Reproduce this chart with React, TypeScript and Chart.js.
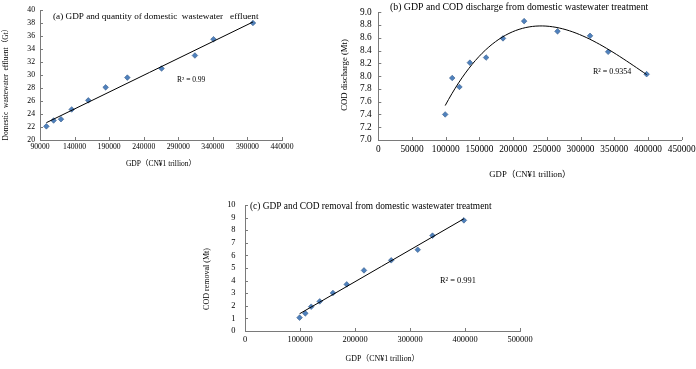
import React, { useEffect, useRef } from "react";
import { Chart, registerables } from "chart.js";

Chart.register(...registerables);

// ---------- data ----------
const gdp = [99215, 109655, 120333, 135823, 159878, 184937, 216314, 265810, 314045, 340903, 397983];
const effluent = [22.1, 23.0, 23.2, 24.7, 26.1, 28.1, 29.6, 31.0, 33.0, 35.5, 38.0];
const codDischarge = [7.4, 7.97, 7.83, 8.21, 8.29, 8.59, 8.86, 8.7, 8.63, 8.38, 8.03];
const codRemoval = [1.06, 1.4, 1.93, 2.35, 3.02, 3.7, 4.81, 5.61, 6.45, 7.57, 8.78];

const titleA = "(a) GDP and quantity of domestic  wastewater   effluent";
const titleB = "(b) GDP and COD discharge from domestic wastewater treatment";
const titleC = "(c) GDP and COD removal from domestic wastewater treatment";
const xTitle = "GDP（CN¥1 trillion）";
const yTitleA = "Domestic  wastewater  effluent（Gt）";
const yTitleB = "COD discharge (Mt)";
const yTitleC = "COD removal (Mt)";
const r2A = "R² = 0.99";
const r2B = "R² = 0.9354";
const r2C = "R² = 0.991";

// ---------- styles ----------
const FAMILY = '"Liberation Serif", "Times New Roman", "Noto Sans CJK SC", serif';
const AXIS = "#7a7a7a";
const MARK_FILL = "#4F81BD";
const MARK_EDGE = "#385D8A";

// ---------- trendlines (least squares polynomial, like the spreadsheet trendline) ----------
function polyFit(xs: number[], ys: number[], order: number) {
  const s = 1e5;
  const u = xs.map((x) => x / s);
  const m = order + 1;
  const A: number[][] = [];
  for (let r = 0; r < m; r++) {
    const row: number[] = [];
    for (let c = 0; c < m; c++) {
      let sum = 0;
      for (const v of u) sum += Math.pow(v, r + c);
      row.push(sum);
    }
    let rhs = 0;
    for (let i = 0; i < u.length; i++) rhs += Math.pow(u[i], r) * ys[i];
    row.push(rhs);
    A.push(row);
  }
  for (let c = 0; c < m; c++) {
    let p = c;
    for (let r = c + 1; r < m; r++) if (Math.abs(A[r][c]) > Math.abs(A[p][c])) p = r;
    [A[c], A[p]] = [A[p], A[c]];
    for (let r = 0; r < m; r++) {
      if (r === c) continue;
      const f = A[r][c] / A[c][c];
      for (let k = c; k <= m; k++) A[r][k] -= f * A[c][k];
    }
  }
  const coef = A.map((row, i) => row[m] / row[i]);
  return (x: number) => {
    const t = x / s;
    let y = 0;
    for (let k = 0; k < m; k++) y += coef[k] * Math.pow(t, k);
    return y;
  };
}

function trendPoints(xs: number[], f: (x: number) => number, n: number) {
  const lo = Math.min(...xs);
  const hi = Math.max(...xs);
  const pts: { x: number; y: number }[] = [];
  for (let i = 0; i <= n; i++) {
    const x = lo + ((hi - lo) * i) / n;
    pts.push({ x, y: f(x) });
  }
  return pts;
}

// ---------- plugins ----------
type TextItem = { text: string; x: number; y: number; size: number; rot?: boolean; align?: CanvasTextAlign };

function textPlugin(items: TextItem[]) {
  return {
    id: "freeText",
    afterDraw(chart: any) {
      const ctx = chart.ctx as CanvasRenderingContext2D;
      for (const t of items) {
        ctx.save();
        ctx.font = `${t.size}px ${FAMILY}`;
        ctx.fillStyle = "#000";
        ctx.textBaseline = "middle";
        ctx.textAlign = t.align || "left";
        ctx.translate(t.x, t.y);
        if (t.rot) ctx.rotate(-Math.PI / 2);
        ctx.fillText(t.text, 0, 0);
        ctx.restore();
      }
    },
  };
}

const inTicks = {
  id: "inTicks",
  afterDatasetsDraw(chart: any) {
    const { ctx, chartArea: a, scales } = chart;
    const x = scales.x;
    const y = scales.y;
    ctx.save();
    ctx.strokeStyle = AXIS;
    ctx.lineWidth = 1;
    ctx.beginPath();
    for (const t of x.ticks) {
      const px = Math.round(x.getPixelForValue(t.value)) + 0.5;
      ctx.moveTo(px, a.bottom);
      ctx.lineTo(px, a.bottom - 3);
    }
    for (const t of y.ticks) {
      const py = Math.round(y.getPixelForValue(t.value)) + 0.5;
      ctx.moveTo(a.left, py);
      ctx.lineTo(a.left + 3, py);
    }
    ctx.stroke();
    ctx.restore();
  },
};

// ---------- chart builder ----------
type Spec = {
  ys: number[];
  trend: { x: number; y: number }[];
  xMin: number; xMax: number; xStep: number;
  yMin: number; yMax: number; yStep: number;
  yFmt: (v: number) => string;
  tickSize: number;
  xTitleSize: number;
  xTitlePadBottom: number;
  xLabelPad: number;
  yLabelPad: number;
  yWidth: number;
  xHeight: number;
  pad: { left: number; right: number; top: number; bottom: number };
  texts: TextItem[];
};

function makeConfig(s: Spec): any {
  const tickFont = { family: FAMILY, size: s.tickSize };
  return {
    type: "scatter",
    data: {
      datasets: [
        {
          type: "line",
          data: s.trend,
          borderColor: "#000",
          borderWidth: 1,
          pointRadius: 0,
          tension: 0,
          fill: false,
        },
        {
          data: gdp.map((x, i) => ({ x, y: s.ys[i] })),
          pointStyle: "rectRot",
          pointRadius: 2.8,
          backgroundColor: MARK_FILL,
          borderColor: MARK_EDGE,
          borderWidth: 0.6,
        },
      ],
    },
    options: {
      responsive: false,
      animation: false,
      events: [],
      layout: { padding: s.pad },
      plugins: { legend: { display: false }, tooltip: { enabled: false }, title: { display: false } },
      scales: {
        x: {
          type: "linear",
          min: s.xMin,
          max: s.xMax,
          ticks: {
            stepSize: s.xStep,
            autoSkip: false,
            maxRotation: 0,
            minRotation: 0,
            padding: s.xLabelPad,
            color: "#000",
            font: tickFont,
            callback: (v: number) => String(v),
          },
          grid: { display: false, drawTicks: false },
          border: { display: true, color: AXIS, width: 1 },
          title: {
            display: true,
            text: xTitle,
            color: "#000",
            font: { family: FAMILY, size: s.xTitleSize },
            padding: { top: 0, bottom: s.xTitlePadBottom },
          },
          afterFit: (sc: any) => {
            sc.height = s.xHeight;
          },
        },
        y: {
          type: "linear",
          min: s.yMin,
          max: s.yMax,
          ticks: {
            stepSize: s.yStep,
            autoSkip: false,
            padding: s.yLabelPad,
            color: "#000",
            font: tickFont,
            callback: (v: number) => s.yFmt(v),
          },
          grid: { display: false, drawTicks: false },
          border: { display: true, color: AXIS, width: 1 },
          title: { display: false },
          afterFit: (sc: any) => {
            sc.width = s.yWidth;
          },
        },
      },
    },
    plugins: [inTicks, textPlugin(s.texts)],
  };
}

function ChartBox(props: { l: number; t: number; w: number; h: number; spec: () => Spec }) {
  const ref = useRef<HTMLCanvasElement>(null);
  useEffect(() => {
    const chart = new Chart(ref.current as HTMLCanvasElement, makeConfig(props.spec()));
    return () => chart.destroy();
  }, []);
  return (
    <canvas
      ref={ref}
      width={props.w}
      height={props.h}
      style={{ position: "absolute", left: props.l, top: props.t, width: props.w, height: props.h }}
    />
  );
}

const specA = (): Spec => ({
  ys: effluent,
  trend: trendPoints(gdp, polyFit(gdp, effluent, 1), 2),
  xMin: 90000, xMax: 440000, xStep: 50000,
  yMin: 20, yMax: 40, yStep: 2,
  yFmt: (v) => String(v),
  tickSize: 7.7,
  xTitleSize: 7.5,
  xTitlePadBottom: 3.2,
  xLabelPad: 2.4,
  yLabelPad: 5,
  yWidth: 40,
  xHeight: 32,
  pad: { left: 0, right: 20, top: 10, bottom: 0 },
  texts: [
    { text: titleA, x: 53, y: 17, size: 9.2 },
    { text: r2A, x: 177, y: 80, size: 7.5 },
    { text: yTitleA, x: 6, y: 82.7, size: 7.5, rot: true, align: "center" },
  ],
});

const specB = (): Spec => ({
  ys: codDischarge,
  trend: trendPoints(gdp, polyFit(gdp, codDischarge, 3), 60),
  xMin: 0, xMax: 450000, xStep: 50000,
  yMin: 7, yMax: 9, yStep: 0.2,
  yFmt: (v) => v.toFixed(1),
  tickSize: 9.3,
  xTitleSize: 8.7,
  xTitlePadBottom: 1.8,
  xLabelPad: 4,
  yLabelPad: 6.6,
  yWidth: 43.3,
  xHeight: 42,
  pad: { left: 0, right: 38.3, top: 10, bottom: 0 },
  texts: [
    { text: titleB, x: 55, y: 7, size: 9.8 },
    { text: r2B, x: 258, y: 72, size: 8 },
    { text: yTitleB, x: 10, y: 75, size: 8.7, rot: true, align: "center" },
  ],
});

const specC = (): Spec => ({
  ys: codRemoval,
  trend: trendPoints(gdp, polyFit(gdp, codRemoval, 1), 2),
  xMin: 0, xMax: 500000, xStep: 100000,
  yMin: 0, yMax: 10, yStep: 1,
  yFmt: (v) => String(v),
  tickSize: 8.4,
  xTitleSize: 7.9,
  xTitlePadBottom: 5,
  xLabelPad: 4,
  yLabelPad: 9.5,
  yWidth: 45,
  xHeight: 38,
  pad: { left: 0, right: 20, top: 15, bottom: 0 },
  texts: [
    { text: titleC, x: 50, y: 17, size: 9.4 },
    { text: r2C, x: 240, y: 91, size: 8.4 },
    { text: yTitleC, x: 7, y: 89, size: 8, rot: true, align: "center" },
  ],
});

export default function App() {
  return (
    <div
      style={{
        position: "fixed",
        left: 0,
        top: 0,
        width: 696,
        height: 369,
        overflow: "hidden",
        background: "#fff",
      }}
    >
      <ChartBox l={0} t={0} w={302} h={172} spec={specA} />
      <ChartBox l={335} t={0} w={385} h={182} spec={specB} />
      <ChartBox l={200} t={190} w={340} h={179} spec={specC} />
    </div>
  );
}
